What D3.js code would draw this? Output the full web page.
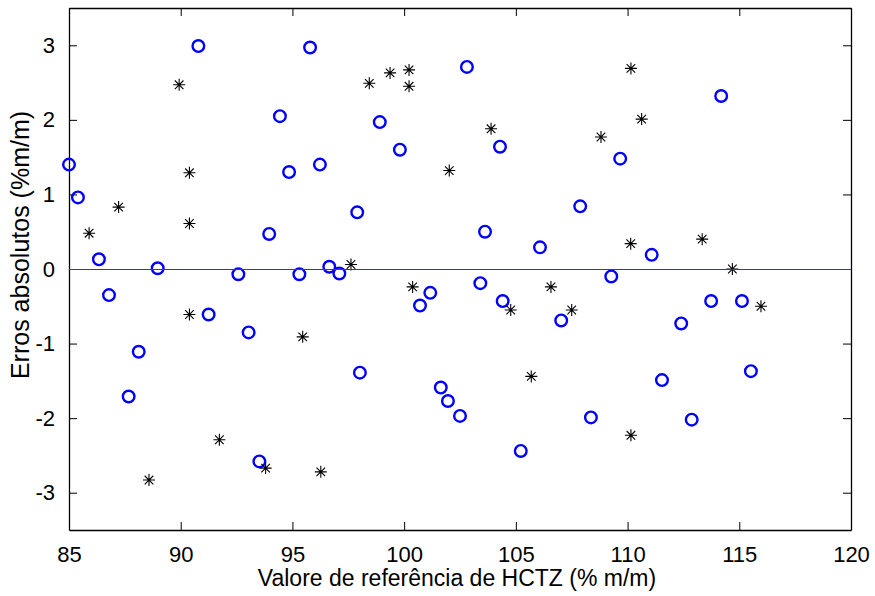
<!DOCTYPE html>
<html>
<head>
<meta charset="utf-8">
<script src="https://cdn.jsdelivr.net/npm/d3@7"></script>
<style>
  body { margin: 0; background: #fff; }
  text { font-family: "Liberation Sans", Arial, sans-serif; fill: #000; }
</style>
</head>
<body>
<div id="plotDiv"></div>
<script>
// --- Data ---
const circleX = [85.00, 85.40, 86.34, 86.79, 87.67, 88.12, 88.97, 90.79, 91.25, 92.58,
  93.04, 93.52, 93.96, 94.44, 94.85, 95.31, 95.79, 96.23, 96.65, 97.10,
  97.90, 98.02, 98.91, 99.81, 100.71, 101.17, 101.64, 101.96, 102.50, 102.81,
  103.41, 103.62, 104.29, 104.41, 105.22, 106.08, 107.03, 107.88, 108.36, 109.27,
  109.67, 111.08, 111.54, 112.40, 112.87, 113.74, 114.19, 115.12, 115.52];
const circleY = [1.40, 0.96, 0.13, -0.35, -1.71, -1.11, 0.01, 2.99, -0.61, -0.07,
  -0.85, -2.58, 0.47, 2.05, 1.30, -0.07, 2.97, 1.40, 0.03, -0.06,
  0.76, -1.39, 1.97, 1.60, -0.49, -0.32, -1.59, -1.77, -1.97, 2.71,
  -0.19, 0.50, 1.64, -0.43, -2.44, 0.29, -0.69, 0.84, -1.99, -0.10,
  1.48, 0.19, -1.49, -0.73, -2.02, -0.43, 2.32, -0.43, -1.37];

const starX = [85.90, 87.22, 88.58, 89.93, 90.39, 90.39, 90.39, 91.73, 93.80, 95.46,
  96.27, 97.62, 98.44, 99.37, 100.22, 100.22, 100.38, 102.02, 103.89, 104.77,
  105.69, 106.57, 107.50, 108.81, 110.15, 110.14, 110.15, 110.63, 113.34, 114.69,
  115.97];
const starY = [0.48, 0.83, -2.83, 2.47, 1.29, 0.61, -0.61, -2.29, -2.67, -0.91,
  -2.72, 0.06, 2.49, 2.63, 2.67, 2.45, -0.24, 1.32, 1.88, -0.55,
  -1.44, -0.24, -0.55, 1.77, 2.69, 0.34, -2.23, 2.01, 0.40, 0.00,
  -0.50];

const xTicks = [85, 90, 95, 100, 105, 110, 115, 120];
const yTicks = [-3, -2, -1, 0, 1, 2, 3];

// --- Definitions ---
const W = 875, H = 596;
const margin = {top: 8, right: 24, bottom: 66, left: 69};
const width = W - margin.left - margin.right;
const height = H - margin.top - margin.bottom;

const svg = d3.select("#plotDiv")
  .append("svg")
  .attr("width", W)
  .attr("height", H);

const g = svg.append("g")
  .attr("transform", `translate(${margin.left}, ${margin.top})`);

const x = d3.scaleLinear().domain([85, 120]).range([0, width]);
const y = d3.scaleLinear().domain([-3.5, 3.5]).range([height, 0]);

// --- Axes (MATLAB style, ticks inside, box on) ---
const tickLen = 8;
const plain = d => String(d); // hyphen minus like the original
g.append("g")
  .attr("transform", `translate(0, ${height})`)
  .call(d3.axisBottom(x).tickValues(xTicks).tickFormat(plain).tickSizeInner(-tickLen).tickSizeOuter(0).tickPadding(tickLen + 8))
  .call(a => a.selectAll("text").style("font-size", "22px"));
g.append("g")
  .call(d3.axisTop(x).tickValues(xTicks).tickSizeInner(-tickLen).tickSizeOuter(0).tickFormat(""));
g.append("g")
  .call(d3.axisLeft(y).tickValues(yTicks).tickFormat(plain).tickSizeInner(-tickLen).tickSizeOuter(0).tickPadding(tickLen + 6))
  .call(a => a.selectAll("text").style("font-size", "22px"));
g.append("g")
  .attr("transform", `translate(${width}, 0)`)
  .call(d3.axisRight(y).tickValues(yTicks).tickSizeInner(-tickLen).tickSizeOuter(0).tickFormat(""));

g.selectAll(".domain").attr("stroke", "#000").attr("stroke-width", 1.3);
g.selectAll(".tick line").attr("stroke", "#000").attr("stroke-width", 1);
g.selectAll(".tick text").attr("font-family", "Liberation Sans, Arial, sans-serif");

// --- Circles ---
const circles = circleX.map((d, i) => ({x: d, y: circleY[i]}));
g.append("g").selectAll("circle")
  .data(circles)
  .join("circle")
  .attr("cx", d => x(d.x))
  .attr("cy", d => y(d.y))
  .attr("r", 5.8)
  .attr("fill", "none")
  .attr("stroke", "#0000ff")
  .attr("stroke-width", 2.4);

// --- Asterisks ---
const stars = starX.map((d, i) => ({x: d, y: starY[i]}));
const s = 6, k = 4.3;
const starPath = `M${-s},0L${s},0M0,${-s}L0,${s}M${-k},${-k}L${k},${k}M${-k},${k}L${k},${-k}`;
g.append("g").selectAll("path")
  .data(stars)
  .join("path")
  .attr("transform", d => `translate(${x(d.x)}, ${y(d.y)})`)
  .attr("d", starPath)
  .attr("fill", "none")
  .attr("stroke", "#000")
  .attr("stroke-width", 1.1);

// --- Zero line ---
g.append("line")
  .attr("x1", x(85)).attr("x2", x(120))
  .attr("y1", Math.round(y(0)) + 0.5).attr("y2", Math.round(y(0)) + 0.5)
  .attr("stroke", "#007000")
  .attr("stroke-width", 1.2);

// --- Labels ---
svg.append("text")
  .attr("x", margin.left + width / 2 - 3)
  .attr("y", 586)
  .attr("text-anchor", "middle")
  .style("font-size", "23px")
  .text("Valore de referência de HCTZ (% m/m)");

svg.append("text")
  .attr("transform", `translate(29, 245) rotate(-90)`)
  .attr("text-anchor", "middle")
  .style("font-size", "25px")
  .text("Erros absolutos (%m/m)");
</script>
</body>
</html>
